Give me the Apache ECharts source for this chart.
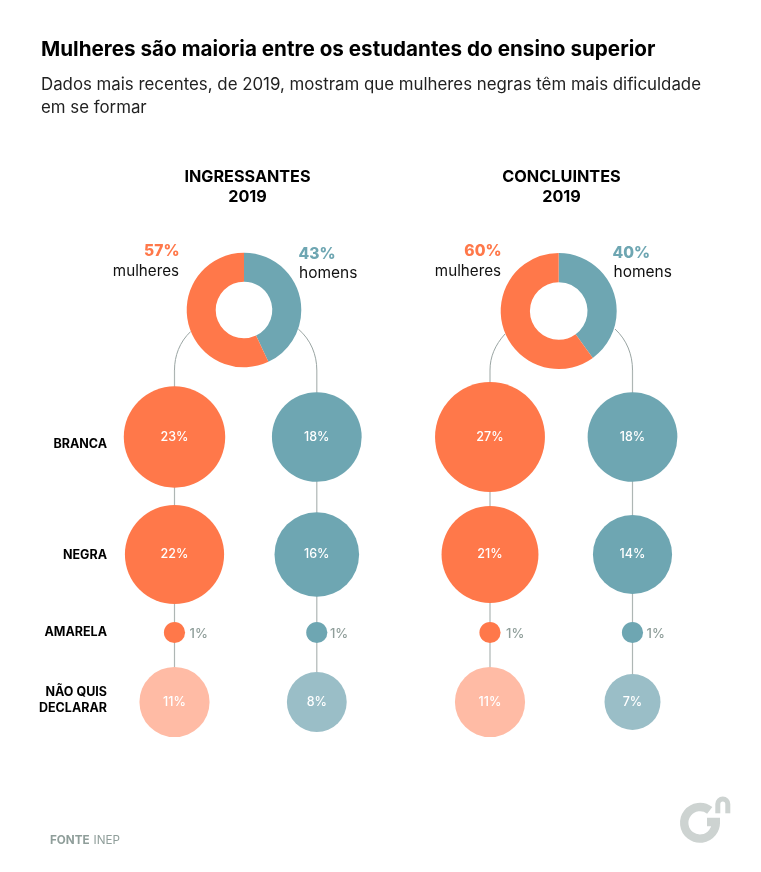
<!DOCTYPE html>
<html><head><meta charset="utf-8">
<style>html,body{margin:0;padding:0;background:#fff}#c{width:761px;height:872px}</style>
<script src="https://cdn.jsdelivr.net/npm/echarts@6/dist/echarts.min.js"></script>
</head><body><div id="c"></div>
<script>
// data
const rowNames = ['BRANCA','NEGRA','AMARELA','NÃO QUIS\nDECLARAR'];
const ingressantesMulheres = [23,22,1,11];
const ingressantesHomens   = [18,16,1,8];
const concluintesMulheres  = [27,21,1,11];
const concluintesHomens    = [18,14,1,7];
const shareIngressantes = {mulheres:57, homens:43};
const shareConcluintes  = {mulheres:60, homens:40};

// layout (canvas-sized axes)
const FONT = 'Inter, "Liberation Sans", sans-serif';
const W=761,H=872;
const colX=[174.5,316.8,490,632.5];
const rowY=[437,554.5,632.5,702];
const ORANGE='#FF784A',TEAL='#6EA6B2',LORANGE='#FFBBA5',LTEAL='#9ABEC7';
const LINE='#AEB6B4',GREY='#8F9E9A',LOGO='#CDD3D1';
const K=21.15;

function bubbles(vals,col,base,light,dist){
  return {type:'scatter',z:3,coordinateSystem:'cartesian2d',
    symbolSize:d=>K*Math.sqrt(d[2]),
    data:vals.map((v,i)=>({value:[colX[col],rowY[i],v],
      itemStyle:{color:i===3?light:base,opacity:1},
      label:v<=1?{position:'right',distance:dist,color:GREY,fontSize:13,fontWeight:500,offset:[0,1.5]}:{}})),
    label:{show:true,position:'inside',formatter:p=>p.value[2]+'%',color:'#fff',fontFamily:FONT,fontSize:12.5,fontWeight:500},
    silent:true,animation:false};
}
function donut(cx,cy,R,r,s){
  return {type:'pie',z:4,center:[cx,cy],radius:[r,R],startAngle:90,clockwise:true,silent:true,animation:false,
    label:{show:false},labelLine:{show:false},
    data:[{value:s.homens,name:'homens',itemStyle:{color:TEAL}},{value:s.mulheres,name:'mulheres',itemStyle:{color:ORANGE}}]};
}
// connector lines: vertical stems and curved links to the donuts
const stems=colX.map(x=>[x,370,rowY[3]]);
const curves=[[190.7,331.5,174.5,370,179.5,342,174.5,356],
              [298.3,329,316.8,370,311,340,316.8,355],
              [505,334,490,370,495,345,490,357],
              [615,329,632.5,370,627,340,632.5,355]];
const connectors={type:'custom',z:1,coordinateSystem:'cartesian2d',silent:true,animation:false,
  data:curves.map((c,i)=>[c[0],c[1]]),clip:false,encode:{x:0,y:1},
  renderItem:(p,api)=>{
    const i=p.dataIndex,c=curves[i],s=stems[i];
    const a=api.coord([c[0],c[1]]),b=api.coord([c[2],c[3]]),c1=api.coord([c[4],c[5]]),c2=api.coord([c[6],c[7]]);
    const s1=api.coord([s[0],s[1]]),s2=api.coord([s[0],s[2]]);
    return {type:'group',children:[
      {type:'bezierCurve',shape:{x1:a[0],y1:a[1],x2:b[0],y2:b[1],cpx1:c1[0],cpy1:c1[1],cpx2:c2[0],cpy2:c2[1]},
       style:{stroke:'#9AA5A3',lineWidth:1,fill:null}},
      {type:'line',shape:{x1:s1[0],y1:s1[1],x2:s2[0],y2:s2[1]},
       style:{stroke:LINE,lineWidth:1.2}}
    ]};
  }};

function t(text,x,y,size,weight,color,align){
  return {type:'text',x,y,silent:true,z:10,style:{text,fontFamily:FONT,fontSize:size,fontWeight:weight,fill:color,align:align||'left',verticalAlign:'middle',lineHeight:size*1.25}};
}
const rad=d=>d*Math.PI/180;
const logo=[
  {type:'arc',silent:true,z:10,shape:{cx:700,cy:822.8,r:15.8,startAngle:rad(-52),endAngle:rad(0),clockwise:false},style:{fill:null,stroke:LOGO,lineWidth:8.4}},
  {type:'polyline',silent:true,z:10,shape:{points:[[715.8,824],[715.8,822],[707,822]]},style:{fill:null,stroke:LOGO,lineWidth:8.4}},
  {type:'arc',silent:true,z:10,shape:{cx:722.8,cy:804,r:5,startAngle:rad(180),endAngle:rad(360),clockwise:true},style:{fill:null,stroke:LOGO,lineWidth:5}},
  {type:'line',silent:true,z:10,shape:{x1:717.8,y1:804,x2:717.8,y2:813.3},style:{stroke:LOGO,lineWidth:5}},
  {type:'line',silent:true,z:10,shape:{x1:727.8,y1:804,x2:727.8,y2:813.3},style:{stroke:LOGO,lineWidth:5}}
];
const texts=[
  t('Mulheres são maioria entre os estudantes do ensino superior',41,50,20.67,700,'#000'),
  t('Dados mais recentes, de 2019, mostram que mulheres negras têm mais dificuldade',41,85,16.83,400,'#222'),
  t('em se formar',41,108,16.83,400,'#222'),
  t('INGRESSANTES',247.5,177.5,16.2,700,'#000','center'),
  t('2019',247.5,197.5,16.2,700,'#000','center'),
  t('CONCLUINTES',561.5,177.5,16.3,700,'#000','center'),
  t('2019',561.5,197.5,16.2,700,'#000','center'),
  t(shareIngressantes.mulheres+'%',179.5,251,15.6,800,ORANGE,'right'),
  t('mulheres',179,271,15.2,400,'#111','right'),
  t(shareIngressantes.homens+'%',298.5,254,15.6,800,TEAL),
  t('homens',299,273.5,15.5,400,'#111'),
  t(shareConcluintes.mulheres+'%',501.5,251,15.6,800,ORANGE,'right'),
  t('mulheres',501,271,15.2,400,'#111','right'),
  t(shareConcluintes.homens+'%',612.5,253,15.6,800,TEAL),
  t('homens',613.5,272,15.5,400,'#111'),
  t(rowNames[0],107,444,12.5,700,'#000','right'),
  t(rowNames[1],107,555,12.5,700,'#000','right'),
  t(rowNames[2],107,632.5,12.5,700,'#000','right'),
  t(rowNames[3].split('\n')[0],107,692.5,12.5,700,'#000','right'),
  t(rowNames[3].split('\n')[1],107,708.5,12.5,700,'#000','right'),
  t('FONTE',50,840.5,11.7,700,GREY),
  t('INEP',93.5,840.5,11.7,400,GREY)
].concat(logo);

const chart=echarts.init(document.getElementById('c'),null,{width:W,height:H});
chart.setOption({
  animation:false,backgroundColor:'#fff',
  grid:{left:0,top:0,width:W,height:H},
  xAxis:{type:'value',min:0,max:W,show:false},
  yAxis:{type:'value',min:0,max:H,inverse:true,show:false},
  series:[connectors,
    bubbles(ingressantesMulheres,0,ORANGE,LORANGE,4.5),
    bubbles(ingressantesHomens,1,TEAL,LTEAL,2.5),
    bubbles(concluintesMulheres,2,ORANGE,LORANGE,5.5),
    bubbles(concluintesHomens,3,TEAL,LTEAL,3.5),
    donut(244,310,57.3,28.3,shareIngressantes),
    donut(558.7,311,58,28.8,shareConcluintes)],
  graphic:{elements:texts}
});
</script></body></html>
